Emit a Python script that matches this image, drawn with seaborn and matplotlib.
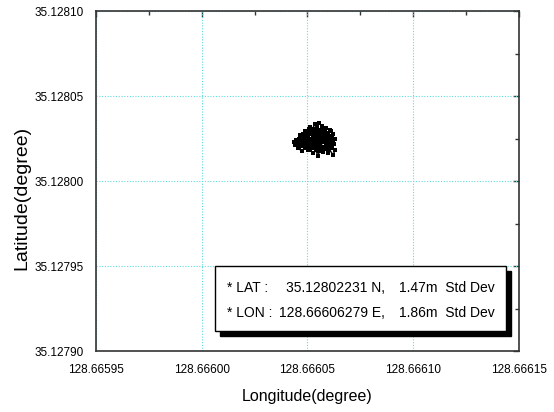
"""Scatter of GPS fixes (longitude vs latitude) with a mean / std-dev box."""

import matplotlib

matplotlib.use("Agg")
import matplotlib.pyplot as plt
import numpy as np
import seaborn as sns
from matplotlib.patches import Rectangle
from matplotlib.ticker import AutoMinorLocator

# GPS track, offsets in micro-degrees from the bases below
LON_BASE = 128.666
LAT_BASE = 35.128
lon_offset_udeg = [
    53.0, 55.2, 57.4, 59.1, 60.8, 62.0, 62.5, 61.1, 59.5, 57.8,
    56.1, 54.3, 52.5, 50.4, 48.7, 46.9, 45.2, 43.6, 44.8, 46.5,
    48.3, 50.1, 51.9, 53.6, 55.4, 57.2, 58.9, 60.5, 62.1, 61.0,
    60.6, 58.7, 57.0, 56.9, 55.4, 54.6, 53.5, 52.3, 51.2, 50.1,
    48.8, 47.9, 46.5, 47.2, 49.1, 51.0, 52.8, 54.7, 56.3, 58.1,
    59.8, 61.6, 63.0, 61.9, 60.2, 58.4, 56.6, 54.8, 53.1, 51.3,
    50.2, 48.6, 47.4, 45.5, 44.1, 46.0, 47.8, 49.5, 51.4, 52.6,
    53.8, 55.0, 55.6, 57.3, 58.2, 59.7, 60.4, 62.1, 63.0, 61.8,
    60.3, 58.6, 56.9, 55.1, 53.2, 51.8, 50.0, 48.1, 46.3, 47.6,
    49.4, 51.2, 53.0, 54.9, 56.8, 58.5, 60.1, 61.4, 59.9, 58.0,
    56.0, 54.2, 52.4, 50.6, 49.0, 50.8, 52.9, 54.4, 55.7, 53.9,
    52.0, 50.5, 49.3, 47.3, 45.9, 44.6,
]
lat_offset_udeg = [
    24.0, 25.1, 23.8, 25.6, 24.2, 22.5, 21.8, 20.6, 21.4, 20.2,
    21.9, 20.8, 22.3, 21.1, 22.6, 21.5, 22.4, 22.9, 24.0, 25.3,
    24.4, 25.8, 24.9, 26.7, 27.5, 26.3, 27.9, 26.8, 27.6, 29.2,
    30.0, 31.2, 29.8, 32.4, 34.1, 31.9, 33.5, 30.6, 31.8, 29.2,
    29.4, 27.6, 27.1, 25.6, 26.8, 27.9, 28.4, 29.5, 28.7, 29.4,
    28.4, 26.1, 24.7, 23.6, 22.7, 22.9, 23.2, 22.7, 21.6, 19.9,
    18.2, 19.6, 17.6, 19.4, 21.2, 20.3, 20.9, 20.1, 18.4, 16.5,
    18.3, 14.7, 17.6, 17.1, 19.0, 16.5, 18.6, 15.3, 18.2, 19.4,
    20.1, 20.5, 19.3, 19.6, 19.2, 21.0, 22.8, 23.5, 23.1, 24.3,
    23.7, 23.2, 23.5, 24.4, 25.0, 24.6, 23.4, 22.3, 26.0, 27.0,
    26.2, 25.8, 26.3, 24.4, 27.9, 28.9, 27.4, 27.9, 30.3, 30.4,
    29.5, 30.6, 28.3, 26.4, 24.7, 23.5,
]

x_ticks = [128.66595, 128.66600, 128.66605, 128.66610, 128.66615]
x_tick_labels = ["128.66595", "128.66600", "128.66605", "128.66610", "128.66615"]
y_ticks = [35.12790, 35.12795, 35.12800, 35.12805, 35.12810]
y_tick_labels = ["35.12790", "35.12795", "35.12800", "35.12805", "35.12810"]

stat_names = ["* LAT :", "* LON :"]
stat_means = ["35.12802231 N,", "128.66606279 E,"]
stat_devs = ["1.47m  Std Dev", "1.86m  Std Dev"]

lon = LON_BASE + np.array(lon_offset_udeg) * 1e-6
lat = LAT_BASE + np.array(lat_offset_udeg) * 1e-6

sns.set_style("white")
plt.rcParams["font.family"] = ["Liberation Sans", "DejaVu Sans"]
plt.rcParams["text.color"] = "black"
plt.rcParams["axes.labelcolor"] = "black"
plt.rcParams["xtick.color"] = "black"
plt.rcParams["ytick.color"] = "black"

fig = plt.figure(figsize=(5.54, 4.12), dpi=100)
ax = fig.add_axes([0.173, 0.148, 0.764, 0.825])

sns.lineplot(x=lon, y=lat, sort=False, estimator=None, color="black",
             linewidth=1.0, ax=ax, zorder=3)
sns.scatterplot(x=lon, y=lat, color="black", s=8, linewidth=0,
                marker="s", ax=ax, zorder=3)

ax.set_xlim(x_ticks[0], x_ticks[-1])
ax.set_ylim(y_ticks[0], y_ticks[-1])
ax.set_xticks(x_ticks, labels=x_tick_labels)
ax.set_yticks(y_ticks, labels=y_tick_labels)
ax.xaxis.set_minor_locator(AutoMinorLocator(2))
ax.yaxis.set_minor_locator(AutoMinorLocator(2))
ax.tick_params(which="major", direction="out", length=6, width=1,
               color="#333333", labelsize=8.5, pad=3)
ax.tick_params(which="minor", direction="out", length=3.5, width=1,
               color="#333333")

# inward ticks on the top and right frames
top = ax.secondary_xaxis("top")
top.set_xticks(x_ticks)
top.xaxis.set_minor_locator(AutoMinorLocator(2))
top.tick_params(which="both", direction="in", labeltop=False, width=1,
                color="#333333")
top.tick_params(which="major", length=4)
top.tick_params(which="minor", length=3)
right = ax.secondary_yaxis("right")
right.set_yticks(y_ticks)
right.yaxis.set_minor_locator(AutoMinorLocator(2))
right.tick_params(which="both", direction="in", labelright=False, width=1,
                  color="#333333")
right.tick_params(which="major", length=4)
right.tick_params(which="minor", length=3)
for sec in (top, right):
    for spine in sec.spines.values():
        spine.set_visible(False)

for spine in ax.spines.values():
    spine.set_color("#333333")
    spine.set_linewidth(1.2)

ax.grid(True, which="major", color="#5fdede", linestyle=(0, (1, 1.5)),
        linewidth=0.8)

ax.set_xlabel("Longitude(degree)", fontsize=11.5, labelpad=10)
ax.set_ylabel("Latitude(degree)", fontsize=14)
ax.yaxis.set_label_coords(-0.154, 0.45)

# mean / std-dev box with drop shadow
box_x, box_y, box_w, box_h = 0.281, 0.059, 0.688, 0.191
ax.add_patch(Rectangle((box_x + 0.013, box_y - 0.016), box_w, box_h,
                       transform=ax.transAxes, facecolor="black",
                       edgecolor="black", zorder=5))
ax.add_patch(Rectangle((box_x, box_y), box_w, box_h, transform=ax.transAxes,
                       facecolor="white", edgecolor="black", linewidth=1,
                       zorder=6))
for i, row_y in enumerate([0.185, 0.112]):
    ax.text(0.310, row_y, stat_names[i], transform=ax.transAxes,
            va="center", ha="left", fontsize=10, zorder=7)
    ax.text(0.683, row_y, stat_means[i], transform=ax.transAxes,
            va="center", ha="right", fontsize=10, zorder=7)
    ax.text(0.716, row_y, stat_devs[i], transform=ax.transAxes,
            va="center", ha="left", fontsize=10, zorder=7)

fig.savefig("out.png", dpi=100)
